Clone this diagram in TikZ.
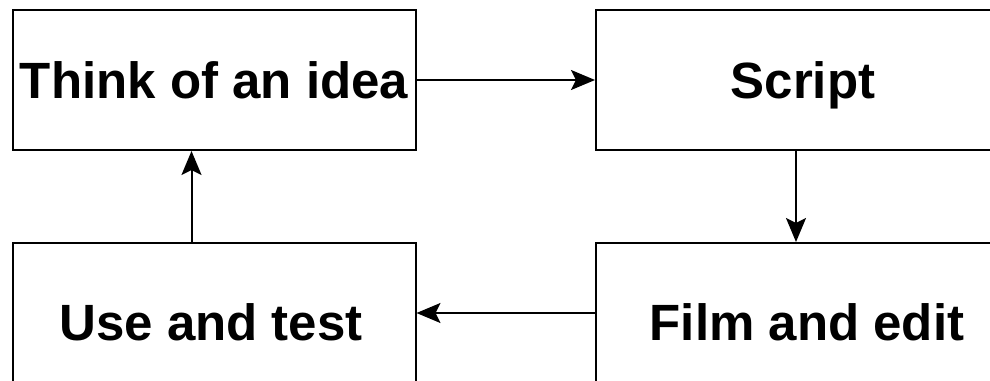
\documentclass[tikz,border=0pt]{standalone}
\usepackage{fontspec}
\setmainfont{Liberation Sans}
\usetikzlibrary{arrows.meta,calc}
\begin{document}
\begin{tikzpicture}[x=1pt,y=-1pt,
  box/.style={draw=black,line width=2pt,minimum height=140pt,inner sep=0pt},
  lbl/.style={font=\fontsize{51}{60}\selectfont\bfseries,inner sep=0pt,anchor=base},
  conn/.style={draw=black,line width=2pt,-{Stealth[length=24pt,width=20pt,inset=5pt]}}]
\useasboundingbox (0,0) rectangle (990,380);
\begin{scope}
\clip (0,0) rectangle (990,380);
\node[box,minimum width=403pt] (idea) at (214,80) {};
\node[box,minimum width=414pt] (script) at (803,80) {};
\node[box,minimum width=403pt] (use) at (214,313) {};
\node[box,minimum width=414pt] (film) at (803,313) {};
\end{scope}
\node[lbl] (t1) at (214,98) {Think of an idea};
\node[lbl] (t2) at (803,98) {Script};
\node[lbl] (t3) at (211,340) {Use and test};
\node[lbl] (t4) at (807,340) {Film and edit};
\draw[conn] (idea.east) -- (script.west);
\draw[conn] (film.west) -- (use.east);
\draw[conn] ($(use.north west)+(180,0)$) -- ($(idea.south west)+(180,0)$);
\draw[conn] ($(script.south west)+(201,0)$) -- ($(film.north west)+(201,0)$);
\end{tikzpicture}
\end{document}
